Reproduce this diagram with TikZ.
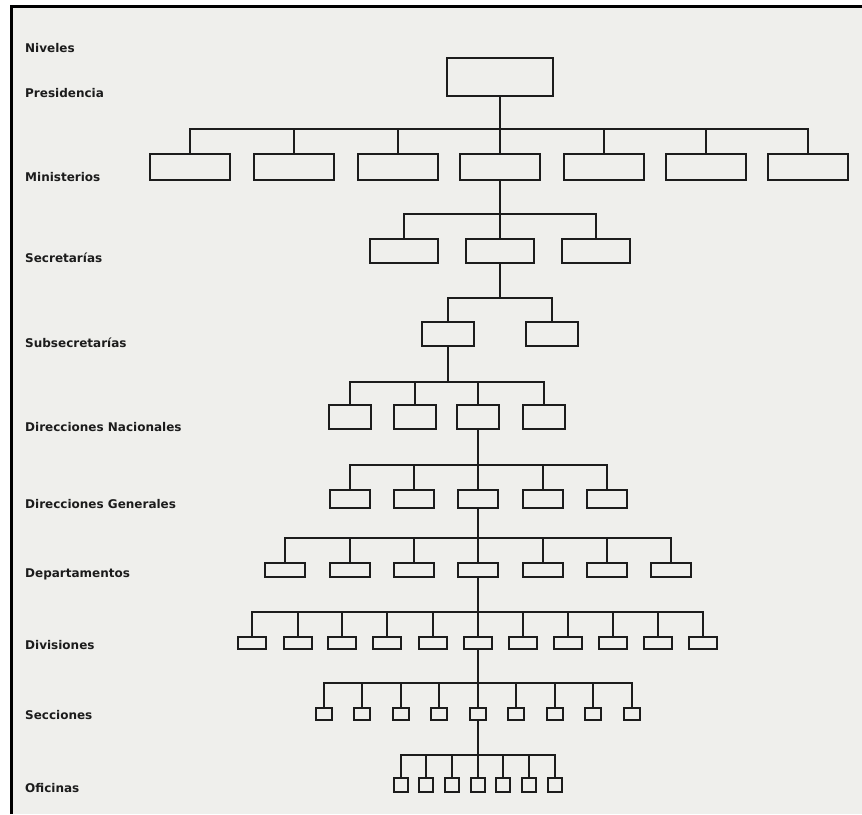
\documentclass[tikz,border=0pt]{standalone}
\usepackage{fontspec}
\setmainfont{DejaVu Sans}
\definecolor{paper}{HTML}{EFEFEC}
\definecolor{ink}{HTML}{1C1C1C}
\begin{document}
\begin{tikzpicture}[x=1pt,y=-1pt,
  orgbox/.style={draw=ink, line width=2pt, inner sep=0pt, fill=none},
  link/.style={draw=ink, line width=2pt, line cap=rect},
  lvl/.style={anchor=base west, inner sep=0pt, text=ink, font=\bfseries\fontsize{12}{14}\selectfont}]
\useasboundingbox (0,0) rectangle (862,814);
\fill[white] (0,0) rectangle (862,814);
\fill[paper] (11,6) rectangle (862,814);
\draw[black, line width=3pt] (11,814) -- (11,6) -- (862,6);

% level labels
\node[lvl] (l0) at (25,52.5) {Niveles};
\node[lvl] (l1) at (25,97.5) {Presidencia};
\node[lvl] (l2) at (25,181.5) {Ministerios};
\node[lvl] (l3) at (25,262.5) {Secretarías};
\node[lvl] (l4) at (25,347.5) {Subsecretarías};
\node[lvl] (l5) at (25,431.5) {Direcciones Nacionales};
\node[lvl] (l6) at (25,508.5) {Direcciones Generales};
\node[lvl] (l7) at (25,577.5) {Departamentos};
\node[lvl] (l8) at (25,649.5) {Divisiones};
\node[lvl] (l9) at (25,719.5) {Secciones};
\node[lvl] (l10) at (25,792.5) {Oficinas};

% bus coordinates
\coordinate (b1) at (0,129);
\coordinate (b2) at (0,214);
\coordinate (b3) at (0,298);
\coordinate (b4) at (0,382);
\coordinate (b5) at (0,465);
\coordinate (b6) at (0,538);
\coordinate (b7) at (0,612);
\coordinate (b8) at (0,683);
\coordinate (b9) at (0,755);

% Presidencia
\node[orgbox, minimum width=106pt, minimum height=38pt] (p) at (500,77) {};

% Ministerios
\foreach \x [count=\i] in {190,294,398,500,604,706,808}
  \node[orgbox, minimum width=80pt, minimum height=26pt] (m\i) at (\x,167) {};
% Secretarias
\foreach \x [count=\i] in {404,500,596}
  \node[orgbox, minimum width=68pt, minimum height=24pt] (s\i) at (\x,251) {};
% Subsecretarias
\foreach \x [count=\i] in {448,552}
  \node[orgbox, minimum width=52pt, minimum height=24pt] (u\i) at (\x,334) {};
% Direcciones Nacionales
\foreach \x [count=\i] in {350,415,478,544}
  \node[orgbox, minimum width=42pt, minimum height=24pt] (n\i) at (\x,417) {};
% Direcciones Generales
\foreach \x [count=\i] in {350,414,478,543,607}
  \node[orgbox, minimum width=40pt, minimum height=18pt] (g\i) at (\x,499) {};
% Departamentos
\foreach \x [count=\i] in {285,350,414,478,543,607,671}
  \node[orgbox, minimum width=40pt, minimum height=14pt] (d\i) at (\x,570) {};
% Divisiones
\foreach \x [count=\i] in {252,298,342,387,433,478,523,568,613,658,703}
  \node[orgbox, minimum width=28pt, minimum height=12pt] (v\i) at (\x,643) {};
% Secciones
\foreach \x [count=\i] in {324,362,401,439,478,516,555,593,632}
  \node[orgbox, minimum width=16pt, minimum height=12pt] (c\i) at (\x,714) {};
% Oficinas
\foreach \x [count=\i] in {401,426,452,478,503,529,555}
  \node[orgbox, minimum width=14pt, minimum height=14pt] (o\i) at (\x,785) {};

% connectors: parent down to bus, bus, children up to bus
\draw[link] (p.south) -- (p.south |- b1);
\draw[link] (m1.north |- b1) -- (m7.north |- b1);
\foreach \i in {1,...,7} \draw[link] (m\i.north) -- (m\i.north |- b1);

\draw[link] (m4.south) -- (m4.south |- b2);
\draw[link] (s1.north |- b2) -- (s3.north |- b2);
\foreach \i in {1,...,3} \draw[link] (s\i.north) -- (s\i.north |- b2);

\draw[link] (s2.south) -- (s2.south |- b3);
\draw[link] (u1.north |- b3) -- (u2.north |- b3);
\foreach \i in {1,2} \draw[link] (u\i.north) -- (u\i.north |- b3);

\draw[link] (u1.south) -- (u1.south |- b4);
\draw[link] (n1.north |- b4) -- (n4.north |- b4);
\foreach \i in {1,...,4} \draw[link] (n\i.north) -- (n\i.north |- b4);

\draw[link] (n3.south) -- (n3.south |- b5);
\draw[link] (g1.north |- b5) -- (g5.north |- b5);
\foreach \i in {1,...,5} \draw[link] (g\i.north) -- (g\i.north |- b5);

\draw[link] (g3.south) -- (g3.south |- b6);
\draw[link] (d1.north |- b6) -- (d7.north |- b6);
\foreach \i in {1,...,7} \draw[link] (d\i.north) -- (d\i.north |- b6);

\draw[link] (d4.south) -- (d4.south |- b7);
\draw[link] (v1.north |- b7) -- (v11.north |- b7);
\foreach \i in {1,...,11} \draw[link] (v\i.north) -- (v\i.north |- b7);

\draw[link] (v6.south) -- (v6.south |- b8);
\draw[link] (c1.north |- b8) -- (c9.north |- b8);
\foreach \i in {1,...,9} \draw[link] (c\i.north) -- (c\i.north |- b8);

\draw[link] (c5.south) -- (c5.south |- b9);
\draw[link] (o1.north |- b9) -- (o7.north |- b9);
\foreach \i in {1,...,7} \draw[link] (o\i.north) -- (o\i.north |- b9);
\end{tikzpicture}
\end{document}
